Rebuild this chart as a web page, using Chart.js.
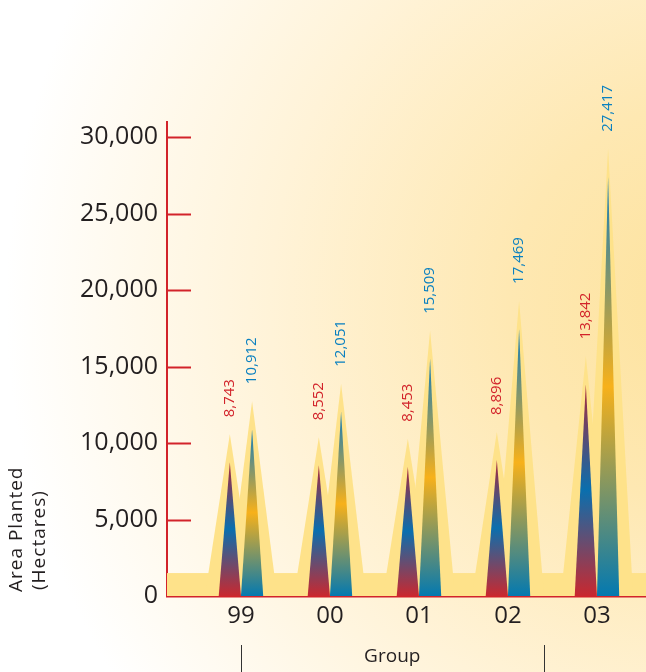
<!DOCTYPE html>
<html>
<head>
<meta charset="utf-8">
<title>Area Planted</title>
<script src="https://cdn.jsdelivr.net/npm/chart.js@4/dist/chart.umd.min.js"></script>
<style>
  html, body { margin: 0; padding: 0; }
  body {
    width: 646px; height: 672px; overflow: hidden;
    background: radial-gradient(circle farthest-corner at 110% 45%, #fde29c 0%, #fee8b2 25%, #fff3d8 55%, #ffffff 88%);
  }
  canvas { display: block; }
</style>
</head>
<body>
<canvas id="chart" width="646" height="672"></canvas>
<script>
// Planting years shown along the bottom
const years = ['99', '00', '01', '02', '03'];
// Area planted (hectares) for the two series
const redSeries = [8743, 8552, 8453, 8896, 13842];
const blueSeries = [10912, 12051, 15509, 17469, 27417];
// Value axis ticks
const yTicks = [0, 5000, 10000, 15000, 20000, 25000, 30000];

const FONT = "'Open Sans', 'DejaVu Sans', sans-serif";
const AXIS_RED = '#d2232a';
const TEXT_DARK = '#231f20';
const GLOW = '#fee28a';
const BAND_LEVEL = 1500;      // height of the glowing strip along the base (hectares)
const GLOW_HALF = 25;         // half width of the glow under each spike (px)
const GLOW_RISE = 28;         // how far the glow reaches above a spike tip (px)
const LABEL_GAP = 45;         // distance from spike tip to its value label (px)

const spikeStyles = [
  { label: '#d2232a', stops: [[0, '#c9282f'], [0.5, '#0a6fae'], [1, '#aa283a']] },
  { label: '#0a80c0', stops: [[0, '#0479b0'], [0.5, '#f7b11a'], [1, '#0f7bbd']] }
];

const toPoints = arr => arr.map((v, i) => ({ x: i, y: v }));
const fmt = v => v.toLocaleString('en-US');

const spikePlugin = {
  id: 'spikes',
  beforeDatasetsDraw(chart) {
    const { ctx, chartArea, scales: { y } } = chart;
    const base = y.getPixelForValue(0);
    ctx.save();
    // glowing strip and halos behind the spikes
    ctx.fillStyle = GLOW;
    const bandTop = y.getPixelForValue(BAND_LEVEL);
    ctx.fillRect(chartArea.left, bandTop, chartArea.right - chartArea.left, base - bandTop);
    chart.data.datasets.forEach((ds, di) => {
      chart.getDatasetMeta(di).data.forEach(bar => {
        const { x, y: top } = bar.getProps(['x', 'y'], true);
        ctx.beginPath();
        ctx.moveTo(x - GLOW_HALF, base);
        ctx.lineTo(x, top - GLOW_RISE);
        ctx.lineTo(x + GLOW_HALF, base);
        ctx.closePath();
        ctx.fill();
      });
    });
    // the spikes themselves
    chart.data.datasets.forEach((ds, di) => {
      const style = spikeStyles[di];
      chart.getDatasetMeta(di).data.forEach(bar => {
        const { x, y: top, base: b, width } = bar.getProps(['x', 'y', 'base', 'width'], true);
        const g = ctx.createLinearGradient(0, b, 0, top);
        style.stops.forEach(([o, c]) => g.addColorStop(o, c));
        ctx.fillStyle = g;
        ctx.beginPath();
        ctx.moveTo(x - width / 2, b);
        ctx.lineTo(x, top);
        ctx.lineTo(x + width / 2, b);
        ctx.closePath();
        ctx.fill();
      });
    });
    ctx.restore();
  },
  afterDatasetsDraw(chart) {
    const { ctx } = chart;
    ctx.save();
    ctx.font = `15px ${FONT}`;
    ctx.textAlign = 'left';
    ctx.textBaseline = 'middle';
    chart.data.datasets.forEach((ds, di) => {
      ctx.fillStyle = spikeStyles[di].label;
      chart.getDatasetMeta(di).data.forEach((bar, i) => {
        const { x, y: top } = bar.getProps(['x', 'y'], true);
        ctx.save();
        ctx.translate(x, top - LABEL_GAP);
        ctx.rotate(-Math.PI / 2);
        ctx.fillText(fmt(ds.data[i].y), 0, 0);
        ctx.restore();
      });
    });
    ctx.restore();
  },
  afterDraw(chart) {
    const { ctx, scales: { x, y } } = chart;
    ctx.save();
    // tick marks pointing into the plot
    ctx.strokeStyle = AXIS_RED;
    ctx.lineWidth = 2;
    y.ticks.forEach(t => {
      if (t.value === 0) return;
      const py = Math.round(y.getPixelForValue(t.value)) + 0.5;
      ctx.beginPath();
      ctx.moveTo(y.right, py);
      ctx.lineTo(y.right + 24, py);
      ctx.stroke();
    });
    // axis title on the left
    ctx.fillStyle = TEXT_DARK;
    ctx.font = `19px ${FONT}`;
    ctx.letterSpacing = '1px';
    ctx.textAlign = 'left';
    ctx.textBaseline = 'middle';
    [['Area Planted', 17, 592], ['(Hectares)', 40, 590]].forEach(([txt, tx, ty]) => {
      ctx.save();
      ctx.translate(tx, ty);
      ctx.rotate(-Math.PI / 2);
      ctx.fillText(txt, 0, 0);
      ctx.restore();
    });
    // group caption with its bracket
    ctx.letterSpacing = '0px';
    const x0 = x.getPixelForValue(0);
    const x1 = x.getPixelForValue(3.4);
    ctx.textAlign = 'center';
    ctx.fillText('Group', (x0 + x1) / 2, 657);
    ctx.strokeStyle = '#333333';
    ctx.lineWidth = 1;
    [x0, x1].forEach(px => {
      ctx.beginPath();
      ctx.moveTo(Math.round(px) + 0.5, 645);
      ctx.lineTo(Math.round(px) + 0.5, 672);
      ctx.stroke();
    });
    ctx.restore();
  }
};

new Chart(document.getElementById('chart'), {
  type: 'bar',
  data: {
    datasets: [
      { label: 'Series A', data: toPoints(redSeries), backgroundColor: 'rgba(0,0,0,0)' },
      { label: 'Series B', data: toPoints(blueSeries), backgroundColor: 'rgba(0,0,0,0)' }
    ]
  },
  options: {
    responsive: false,
    animation: false,
    devicePixelRatio: 1,
    layout: { padding: { top: 122, left: 0, right: 0, bottom: 0 } },
    plugins: { legend: { display: false }, tooltip: { enabled: false } },
    datasets: { bar: { categoryPercentage: 0.5, barPercentage: 1 } },
    scales: {
      x: {
        type: 'linear',
        min: -0.831,
        max: 4.551,
        offset: false,
        z: 1,
        grid: { display: false, drawTicks: false },
        border: { display: true, color: AXIS_RED, width: 2.5 },
        ticks: {
          stepSize: 1,
          includeBounds: false,
          autoSkip: false,
          maxRotation: 0,
          padding: 6,
          color: TEXT_DARK,
          font: { family: FONT, size: 24 },
          callback: v => Number.isInteger(v) ? years[v] : ''
        },
        afterFit: s => { s.height = 76; }
      },
      y: {
        min: 0,
        max: 31000,
        z: 1,
        grid: { display: false, drawTicks: false },
        border: { display: true, color: AXIS_RED, width: 2 },
        afterBuildTicks: s => { s.ticks = yTicks.map(v => ({ value: v })); },
        ticks: {
          autoSkip: false,
          padding: 9,
          color: TEXT_DARK,
          font: { family: FONT, size: 25 },
          callback: v => fmt(v)
        },
        afterFit: s => { s.width = 167; }
      }
    }
  },
  plugins: [spikePlugin]
});
</script>
</body>
</html>
